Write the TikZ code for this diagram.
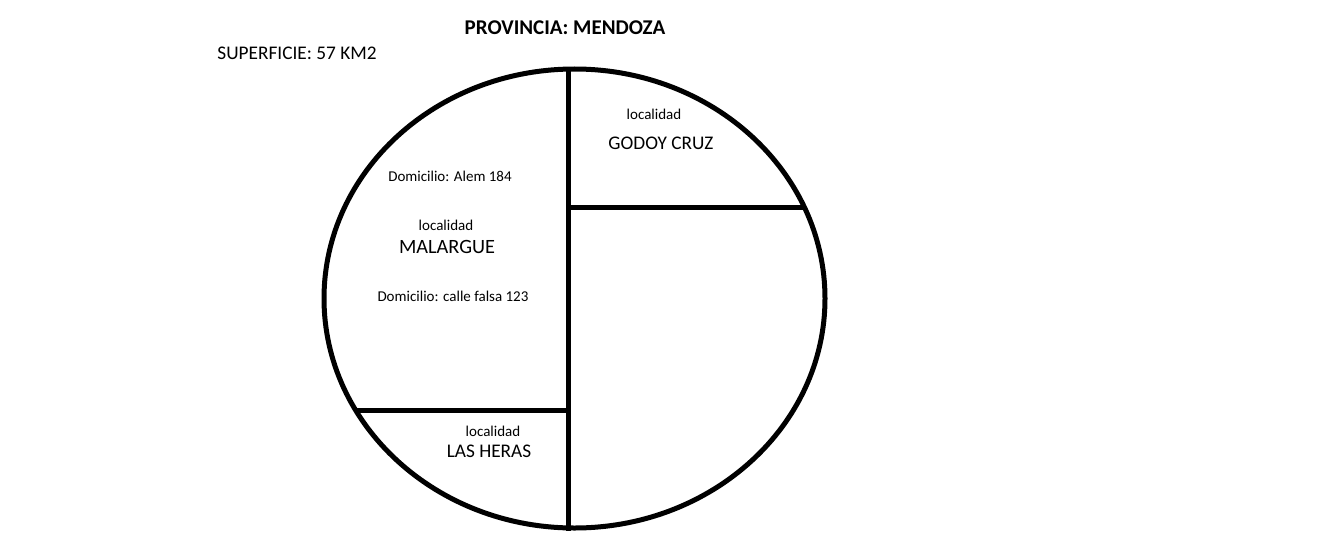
\documentclass[tikz,border=0pt]{standalone}
\usepackage{fontspec}
\setmainfont{Carlito}
\begin{document}
\begin{tikzpicture}[x=1pt,y=-1pt,
  line/.style={line width=5pt},
  lbl/.style={inner sep=0pt,anchor=center,text=black},
  small/.style={lbl,font=\fontsize{15}{15}\selectfont},
  mid/.style={lbl,font=\fontsize{19.3}{19.3}\selectfont},
  big/.style={lbl,font=\fontsize{20.3}{20.3}\selectfont},
  title/.style={lbl,font=\fontsize{21}{21}\selectfont\bfseries}]
\useasboundingbox (0,0) rectangle (1330,543);
\fill[white] (0,0) rectangle (1330,543);
% outline
\draw[line] (574.5,298.5) ellipse [x radius=250.5, y radius=229.5];
\coordinate (vt) at (568,69);
\coordinate (vb) at (568,531);
\coordinate (h1l) at (568,207);
\coordinate (h1r) at (804,207);
\coordinate (h2l) at (355,410);
\coordinate (h2r) at (568,410);
\draw[line] (vt) -- (vb);
\draw[line] (h1l) -- (h1r);
\draw[line] (h2l) -- (h2r);
% texts
\node[title] (prov) at (565,28) {PROVINCIA: MENDOZA};
\node[mid] (sup) at (297,53) {SUPERFICIE: 57 KM2};
\node[small] (loc1) at (654,114) {localidad};
\node[mid] (godoy) at (661,143) {GODOY CRUZ};
\node[small] (dom1) at (450,176) {Domicilio: Alem 184};
\node[small] (loc2) at (446,225) {localidad};
\node[big] (mal) at (447,247) {MALARGUE};
\node[small] (dom2) at (453,296) {Domicilio: calle falsa 123};
\node[small] (loc3) at (493,431) {localidad};
\node[mid] (heras) at (489,451) {LAS HERAS};
\end{tikzpicture}
\end{document}
